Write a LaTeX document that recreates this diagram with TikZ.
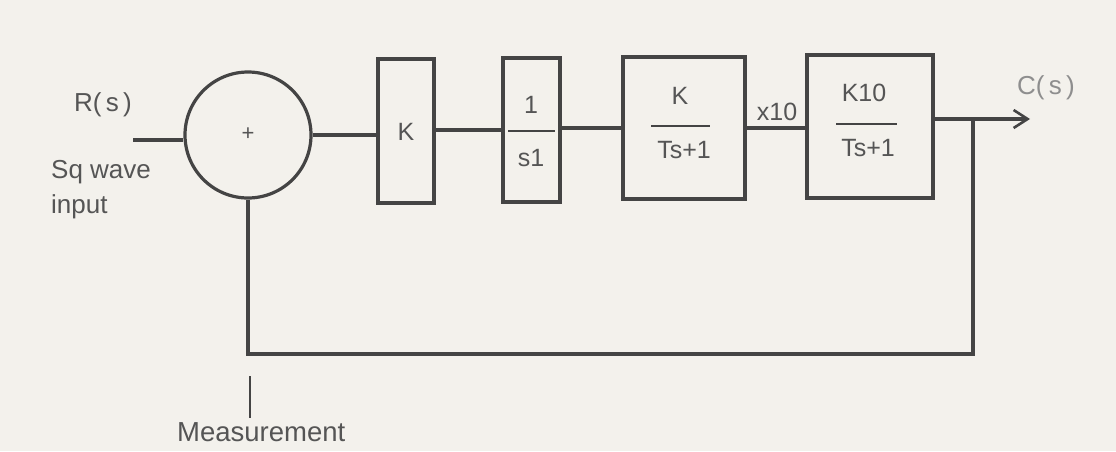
\documentclass[tikz,border=0pt]{standalone}
\usepackage{fontspec}
\setmainfont{Liberation Sans}
\usetikzlibrary{arrows.meta}
\definecolor{paper}{HTML}{F3F1EC}
\definecolor{ink}{HTML}{444444}
\definecolor{inktext}{HTML}{555555}
\definecolor{faint}{HTML}{8E8E8E}
\tikzset{
  wire/.style={draw=ink, line width=3.2pt},
  block/.style={draw=ink, line width=3.2pt, rectangle, inner sep=0pt},
  sumjunction/.style={draw=ink, line width=3.2pt, circle, inner sep=0pt, minimum size=126pt},
  bar/.style={draw=ink, line width=2.2pt},
  boxlabel/.style={text=inktext, font=\fontsize{25}{29}\selectfont, inner sep=0pt},
  sidelabel/.style={text=inktext, font=\fontsize{26}{35}\selectfont, inner sep=0pt},
}
\begin{document}
\begin{tikzpicture}[x=1pt, y=-1pt]
  % paper
  \fill[paper] (0,0) rectangle (1116,451);
  \useasboundingbox (0,0) rectangle (1116,451);

  % summing junction and blocks
  \node[sumjunction] (sum) at (248,135) {};
  \node[boxlabel, font=\fontsize{22}{26}\selectfont] (plus) at (248,134) {+};
  \node[block, minimum width=56pt, minimum height=144pt] (kbox) at (406,131) {};
  \node[block, minimum width=57pt, minimum height=144pt] (intbox) at (531.5,130) {};
  \node[block, minimum width=122pt, minimum height=142pt] (gone) at (684,128) {};
  \node[block, minimum width=126pt, minimum height=143pt] (gtwo) at (870,126.5) {};

  % block contents
  \node[boxlabel] (klabel) at (406,132) {K};
  \node[boxlabel] (intnum) at (531,105) {1};
  \node[boxlabel] (intden) at (531,158) {s1};
  \draw[bar] (508,131) -- (555,131);
  \node[boxlabel] (gonenum) at (680,96) {K};
  \node[boxlabel] (goneden) at (684,150) {Ts+1};
  \draw[bar] (651,126) -- (710,126);
  \node[boxlabel] (gtwonum) at (864,93) {K10};
  \node[boxlabel] (gtwoden) at (868,148) {Ts+1};
  \draw[bar] (836,124) -- (897,124);

  % signal labels
  \node[sidelabel] (rs) at (103,105) {R(\,s\,)};
  \node[sidelabel, align=left, anchor=west] (sq) at (51,190) {Sq wave\\input};
  \node[boxlabel] (xten) at (777,112) {x10};
  \node[sidelabel, text=faint] (cs) at (1046,88) {C(\,s\,)};
  \node[sidelabel, font=\fontsize{27.5}{33}\selectfont, anchor=west] (meas) at (177,432) {Measurement};

  % free ends of the wiring
  \coordinate (in) at (133,140);
  \coordinate (out) at (1030,119);
  \coordinate (tap) at (973,119);
  \coordinate (corner) at (973,354);
  \coordinate (ticktop) at (250,376);
  \coordinate (tickbot) at (250,418);

  % forward path
  \draw[wire] (in) -- (sum.west |- in);
  \draw[wire] (sum.east) -- (sum.east -| kbox.west);
  \draw[wire] (kbox.east |- intbox.west) -- (intbox.west);
  \draw[wire] (intbox.east |- gone.west) -- (gone.west);
  \draw[wire] (gone.east) -- (gone.east -| gtwo.west);
  \draw[wire, -{Straight Barb[length=14pt, width=18pt, line width=2.6pt]}] (gtwo.east |- out) -- (out);

  % feedback path
  \draw[wire, line join=miter] (tap) -- (corner) -- (corner -| sum.south) -- (sum.south);

  % measurement tick
  \draw[wire, line width=2.4pt] (ticktop) -- (tickbot);
\end{tikzpicture}
\end{document}
